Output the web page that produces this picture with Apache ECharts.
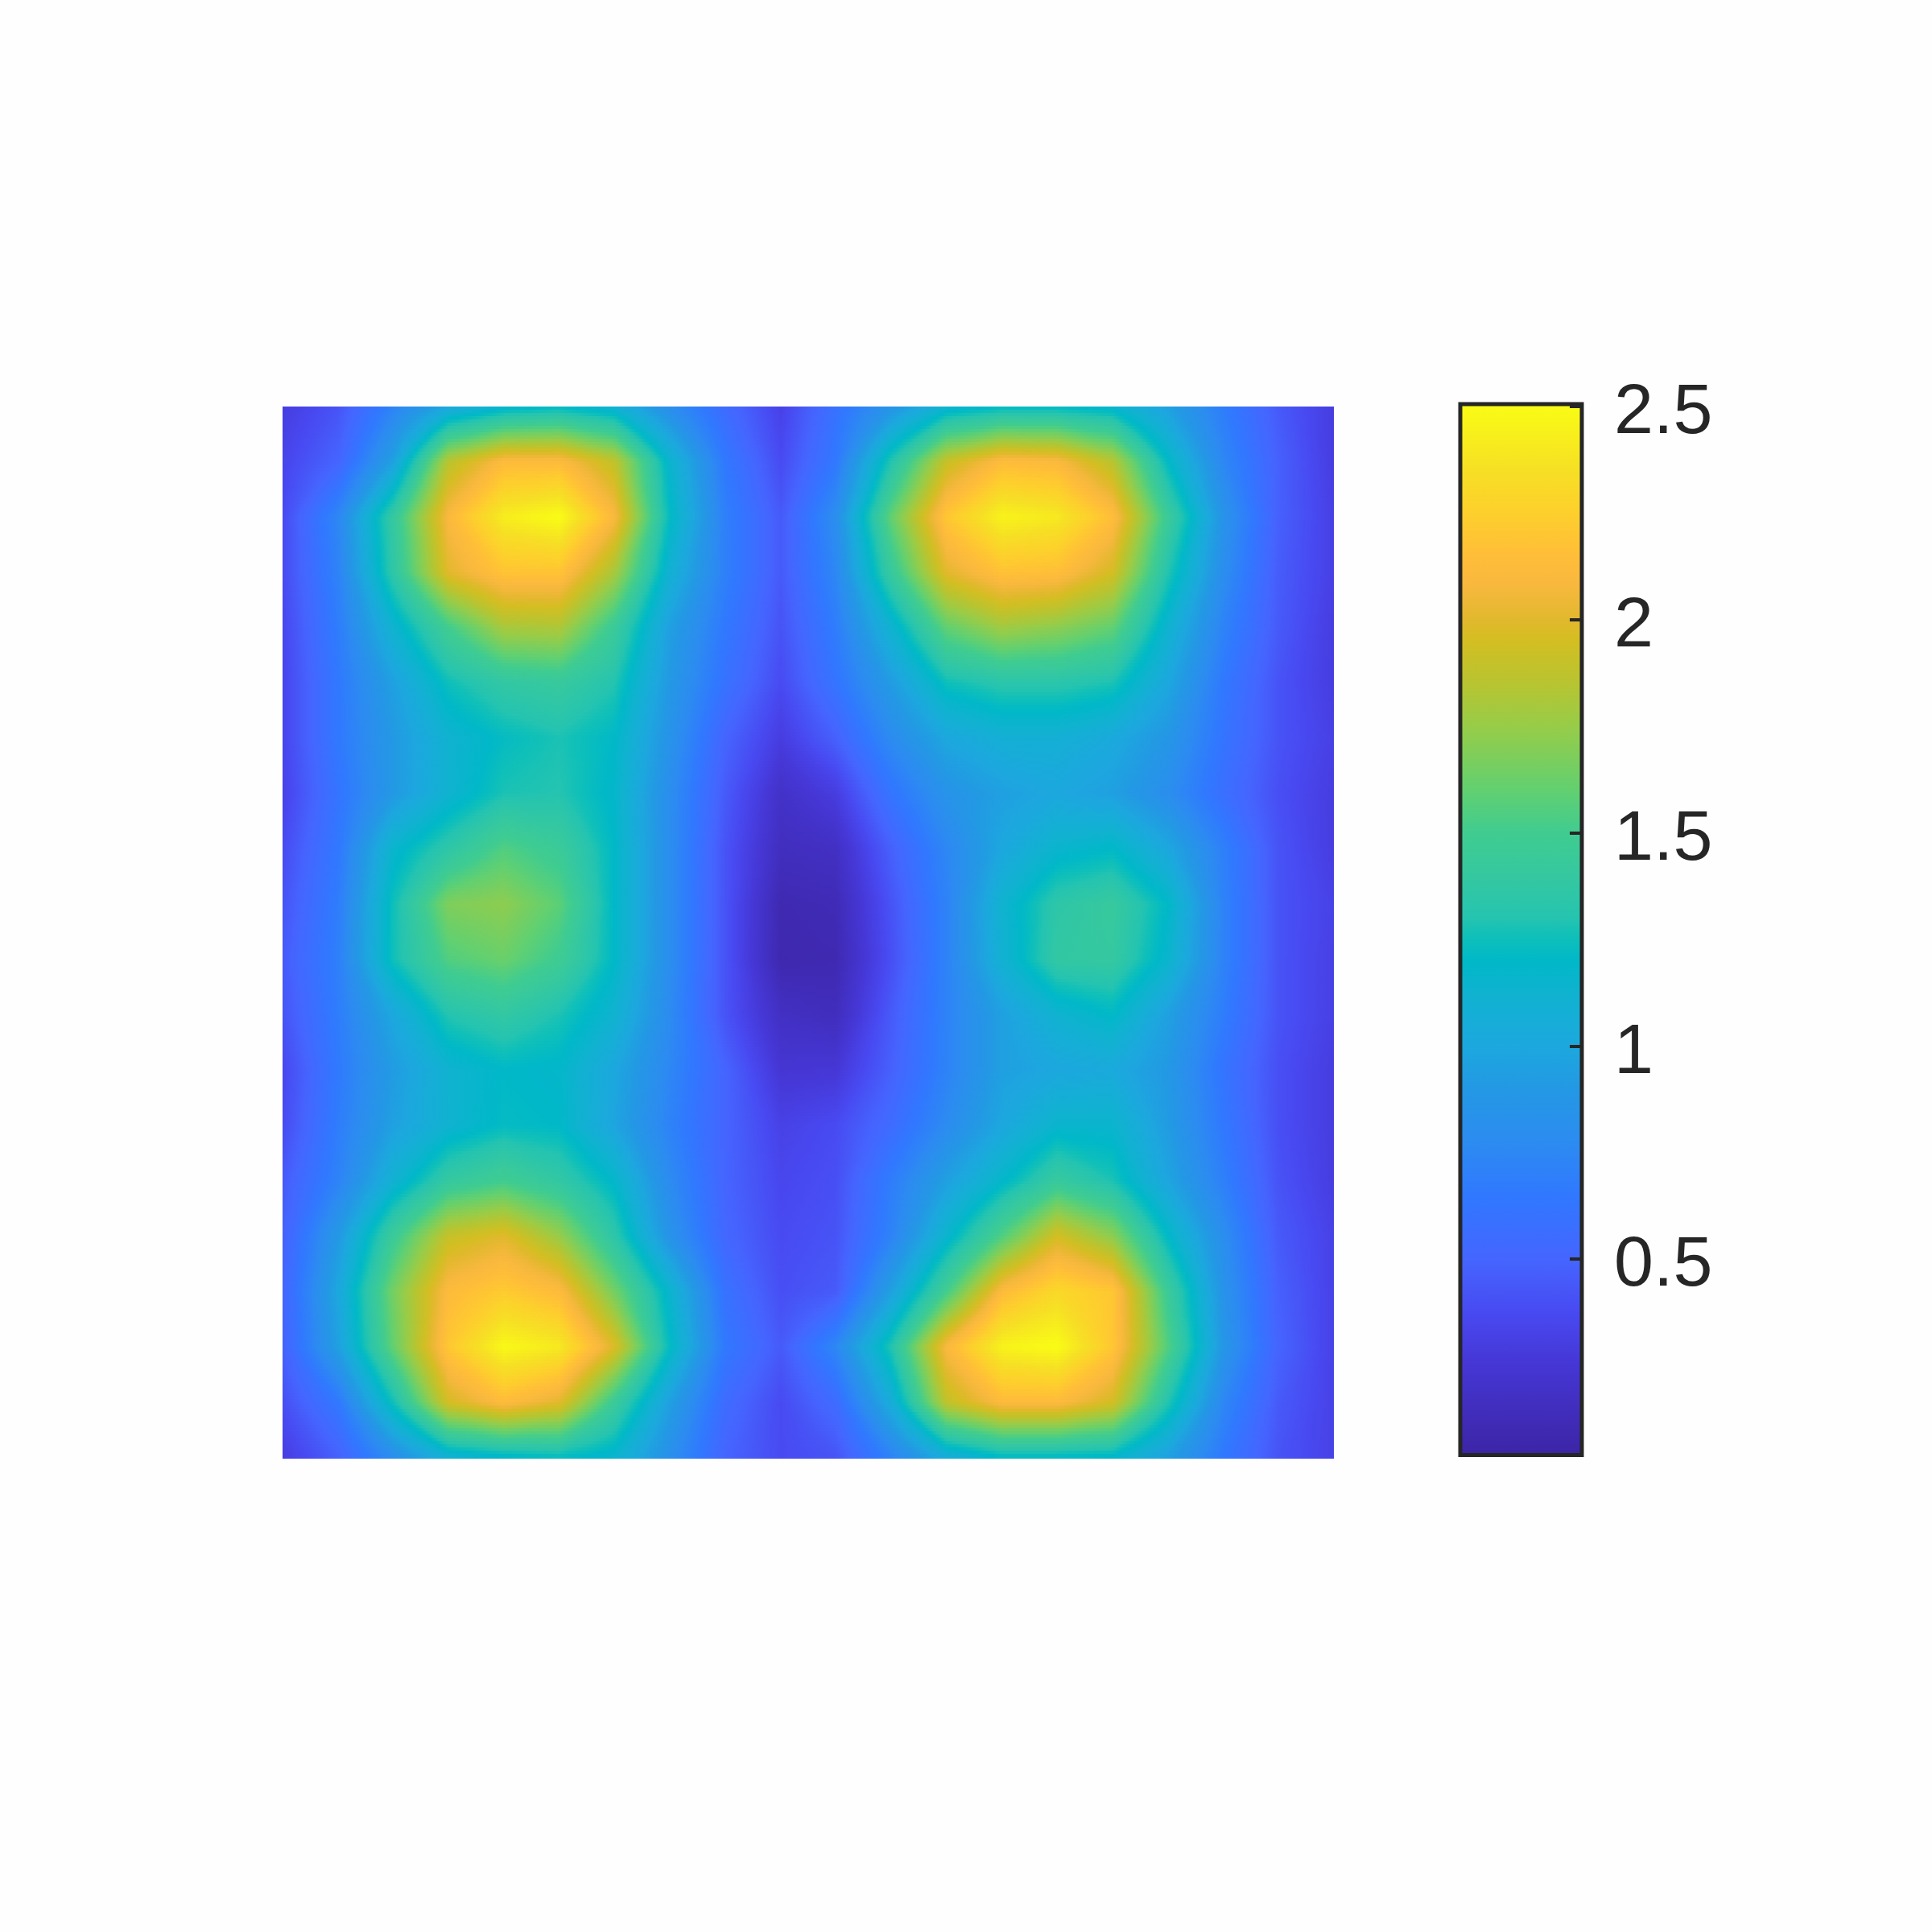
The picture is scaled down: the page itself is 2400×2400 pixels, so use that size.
<!DOCTYPE html>
<html>
<head>
<meta charset="utf-8">
<title>Heatmap</title>
<style>
  html, body { margin: 0; padding: 0; background: #fefefe; }
  #main { width: 2400px; height: 2400px; }
</style>
<script src="https://cdn.jsdelivr.net/npm/echarts@6/dist/echarts.min.js"></script>
</head>
<body>
<div id="main"></div>
<script>
// values, one list per mesh row, top row first
const row0  = [.30,.42,.72,1.0,1.15,1.20,1.10,.80,.55,.33, .60,.85,1.12,1.20,1.20,1.15,.95,.68,.45,.30];
const row1  = [.35,.50,.95,1.85,2.12,2.12,1.88,1.15,.65,.38, .65,1.30,1.90,2.13,2.10,1.85,1.20,.75,.48,.30];
const row2  = [.38,.75,1.40,2.10,2.42,2.50,2.10,1.22,.70,.45, .80,1.60,2.20,2.45,2.40,2.15,1.45,.85,.48,.32];
const row3  = [.38,.72,1.35,2.00,2.18,2.18,1.80,1.10,.70,.45, .75,1.42,2.00,2.17,2.15,1.95,1.30,.80,.46,.32];
const row4  = [.36,.68,1.12,1.50,1.80,1.82,1.45,.95,.65,.42, .68,1.12,1.60,1.78,1.72,1.60,1.12,.72,.45,.30];
const row5  = [.35,.65,.95,1.25,1.38,1.42,1.30,.90,.60,.38, .62,.92,1.25,1.33,1.33,1.28,1.00,.65,.42,.30];
const row6  = [.35,.65,.90,1.12,1.22,1.28,1.20,.85,.50,.30, .48,.78,1.00,1.08,1.08,1.02,.88,.62,.42,.32];
const row7  = [.33,.62,.90,1.12,1.28,1.30,1.18,.80,.45,.20, .30,.62,.85,.95,1.00,.95,.80,.58,.40,.30];
const row8  = [.38,.65,1.15,1.35,1.55,1.45,1.20,.80,.42,.16, .18,.48,.75,1.00,1.15,1.20,1.00,.70,.42,.30];
const row9  = [.42,.68,1.25,1.68,1.72,1.58,1.20,.80,.42,.10, .12,.42,.72,1.12,1.35,1.42,1.20,.72,.42,.33];
const row10 = [.45,.70,1.25,1.55,1.62,1.48,1.20,.80,.42,.09, .10,.40,.72,1.10,1.38,1.40,1.15,.72,.42,.32];
const row11 = [.42,.68,1.00,1.30,1.38,1.28,1.12,.78,.42,.18, .15,.45,.72,.95,1.12,1.20,.95,.68,.42,.32];
const row12 = [.36,.66,.92,1.12,1.20,1.18,1.00,.75,.50,.25, .26,.48,.72,.95,1.00,1.02,.90,.62,.40,.30];
const row13 = [.38,.68,.95,1.12,1.22,1.20,.98,.72,.50,.33, .38,.55,.78,1.00,1.15,1.15,.92,.65,.40,.30];
const row14 = [.45,.72,1.10,1.40,1.50,1.38,1.18,.78,.50,.36, .40,.68,.95,1.18,1.42,1.28,.98,.70,.42,.30];
const row15 = [.48,.90,1.45,1.90,2.00,1.75,1.35,.85,.52,.38, .42,.72,1.15,1.55,1.95,1.72,1.20,.80,.45,.33];
const row16 = [.50,1.00,1.65,2.12,2.22,2.12,1.65,1.15,.60,.40, .45,.95,1.50,2.12,2.30,2.20,1.45,.85,.48,.33];
const row17 = [.48,.95,1.60,2.20,2.48,2.40,1.98,1.22,.65,.45, .75,1.30,2.10,2.45,2.50,2.20,1.55,.88,.50,.33];
const row18 = [.40,.65,1.25,1.95,2.13,2.00,1.45,.95,.55,.38, .55,1.05,1.88,2.12,2.12,1.95,1.30,.75,.45,.33];
const row19 = [.30,.48,.80,1.10,1.18,1.22,1.15,.82,.50,.38, .42,.72,1.05,1.20,1.20,1.18,.95,.65,.42,.33];
const rows = [row0,row1,row2,row3,row4,row5,row6,row7,row8,row9,row10,row11,row12,row13,row14,row15,row16,row17,row18,row19];

// colormap as seen on the colorbar
const colorLevels = [.04,.27,.37,.5,.65,.78,.9,1.0,1.12,1.2,1.26,1.3,1.4,1.5,1.6,1.75,1.85,1.95,2.0,2.08,2.15,2.25,2.35,2.5];
const colorHexes = ['#3c24a4','#4638d8','#4848f0','#4565ff','#3078ff','#2c8cf0','#2398e4','#1ca8de','#10b2d0','#00b8c8','#10c0b8','#25c4b0','#35c8a0','#40cc90','#62d070','#98cc48','#b8c430','#d4be22','#e2b82e','#f8b83e','#ffbe38','#fdd02c','#f6e024','#f9fc14'];
const tickValues = [0.5, 1, 1.5, 2, 2.5];
const colorMin = 0.04;
const colorMax = 2.506;

const stopRgb = colorHexes.map(function (h) {
  return [parseInt(h.slice(1, 3), 16), parseInt(h.slice(3, 5), 16), parseInt(h.slice(5, 7), 16)];
});

function colorAt(v) {
  if (v <= colorLevels[0]) return colorHexes[0];
  for (let k = 1; k < colorLevels.length; k++) {
    if (v <= colorLevels[k]) {
      const t = (v - colorLevels[k - 1]) / (colorLevels[k] - colorLevels[k - 1]);
      const a = stopRgb[k - 1], b = stopRgb[k];
      return 'rgb(' + Math.round(a[0] + (b[0] - a[0]) * t) + ',' + Math.round(a[1] + (b[1] - a[1]) * t) + ',' + Math.round(a[2] + (b[2] - a[2]) * t) + ')';
    }
  }
  return colorHexes[colorHexes.length - 1];
}

const meshData = [];
rows.forEach(function (r, j) {
  r.forEach(function (v, i) {
    meshData.push([i, j, v]);
  });
});

const STRIPS = 17; // shading strips per mesh cell
const STOPS = 12;  // gradient stops along a strip

// triangle shading of one mesh cell, split along the flatter diagonal
function shadeTri(c, u, w) {
  if (Math.abs(c.z10 - c.z01) <= Math.abs(c.z00 - c.z11)) {
    if (u + w <= 1) return c.z00 + u * (c.z10 - c.z00) + w * (c.z01 - c.z00);
    return c.z11 + (1 - u) * (c.z01 - c.z11) + (1 - w) * (c.z10 - c.z11);
  }
  if (u >= w) return c.z00 + u * (c.z10 - c.z00) + w * (c.z11 - c.z10);
  return c.z00 + u * (c.z11 - c.z01) + w * (c.z01 - c.z00);
}

// mix of corner blending and triangles, keeps the corners of the contours without spikes
function shade(c, u, w) {
  const bi = c.z00 * (1 - u) * (1 - w) + c.z10 * u * (1 - w) + c.z01 * (1 - u) * w + c.z11 * u * w;
  return 0.65 * bi + 0.35 * shadeTri(c, u, w);
}

function renderCell(params, api) {
  const i = api.value(0), j = api.value(1);
  if (i >= rows[0].length - 1 || j >= rows.length - 1) return null;
  const c = { z00: rows[j][i], z10: rows[j][i + 1], z01: rows[j + 1][i], z11: rows[j + 1][i + 1] };
  const p0 = api.coord([i, j]), p1 = api.coord([i + 1, j + 1]);
  const x0 = Math.round(p0[0]), x1 = Math.round(p1[0]);
  const children = [];
  for (let b = 0; b < STRIPS; b++) {
    const w = (b + 0.5) / STRIPS;
    const stops = [];
    for (let s = 0; s <= STOPS; s++) {
      stops.push({ offset: s / STOPS, color: colorAt(shade(c, s / STOPS, w)) });
    }
    const y0 = Math.floor(p0[1] + (p1[1] - p0[1]) * b / STRIPS);
    const y1 = Math.ceil(p0[1] + (p1[1] - p0[1]) * (b + 1) / STRIPS);
    children.push({
      type: 'rect',
      shape: { x: x0, y: y0, width: x1 - x0, height: y1 - y0 },
      style: { fill: new echarts.graphic.LinearGradient(0, 0, 1, 0, stops) }
    });
  }
  return { type: 'group', children: children };
}

function renderColorbar(params, api) {
  const p0 = api.coord([0, colorMax]), p1 = api.coord([1, colorMin]);
  const span = colorMax - colorMin;
  const stops = colorLevels.map(function (l, k) {
    return { offset: Math.min(1, (l - colorMin) / span), color: colorHexes[k] };
  });
  stops.push({ offset: 1, color: colorHexes[colorHexes.length - 1] });
  return {
    type: 'rect',
    shape: { x: p0[0], y: p0[1], width: p1[0] - p0[0], height: p1[1] - p0[1] },
    style: {
      fill: new echarts.graphic.LinearGradient(0, 1, 0, 0, stops),
      stroke: '#262626',
      lineWidth: 5
    }
  };
}

const chart = echarts.init(document.getElementById('main'));
chart.setOption({
  backgroundColor: '#fefefe',
  animation: false,
  grid: [
    { left: 351, top: 505, width: 1306, height: 1306 },
    { left: 1814, top: 502, width: 151, height: 1305.5 }
  ],
  xAxis: [
    { type: 'value', gridIndex: 0, min: 0, max: 19, show: false },
    { type: 'value', gridIndex: 1, min: 0, max: 1, show: false }
  ],
  yAxis: [
    { type: 'value', gridIndex: 0, min: 0, max: 19, inverse: true, show: false },
    {
      type: 'value',
      gridIndex: 1,
      min: colorMin,
      max: colorMax,
      position: 'right',
      z: 5,
      splitLine: { show: false },
      axisLine: { show: false, onZero: false },
      axisTick: {
        show: true,
        inside: true,
        length: 15,
        customValues: tickValues,
        lineStyle: { color: '#262626', width: 4 }
      },
      axisLabel: {
        show: true,
        margin: 40,
        customValues: tickValues,
        formatter: function (v) { return '{t|' + v + '}'; },
        rich: {
          t: {
            fontFamily: '"Liberation Sans", Arial, sans-serif',
            fontSize: 88,
            color: '#262626',
            padding: [18, 0, 0, 0]
          }
        }
      }
    }
  ],
  series: [
    {
      type: 'custom',
      xAxisIndex: 0,
      yAxisIndex: 0,
      data: meshData,
      encode: { x: 0, y: 1 },
      renderItem: renderCell,
      silent: true
    },
    {
      type: 'custom',
      xAxisIndex: 1,
      yAxisIndex: 1,
      data: [[0, colorMin]],
      renderItem: renderColorbar,
      silent: true
    }
  ]
});
</script>
</body>
</html>
